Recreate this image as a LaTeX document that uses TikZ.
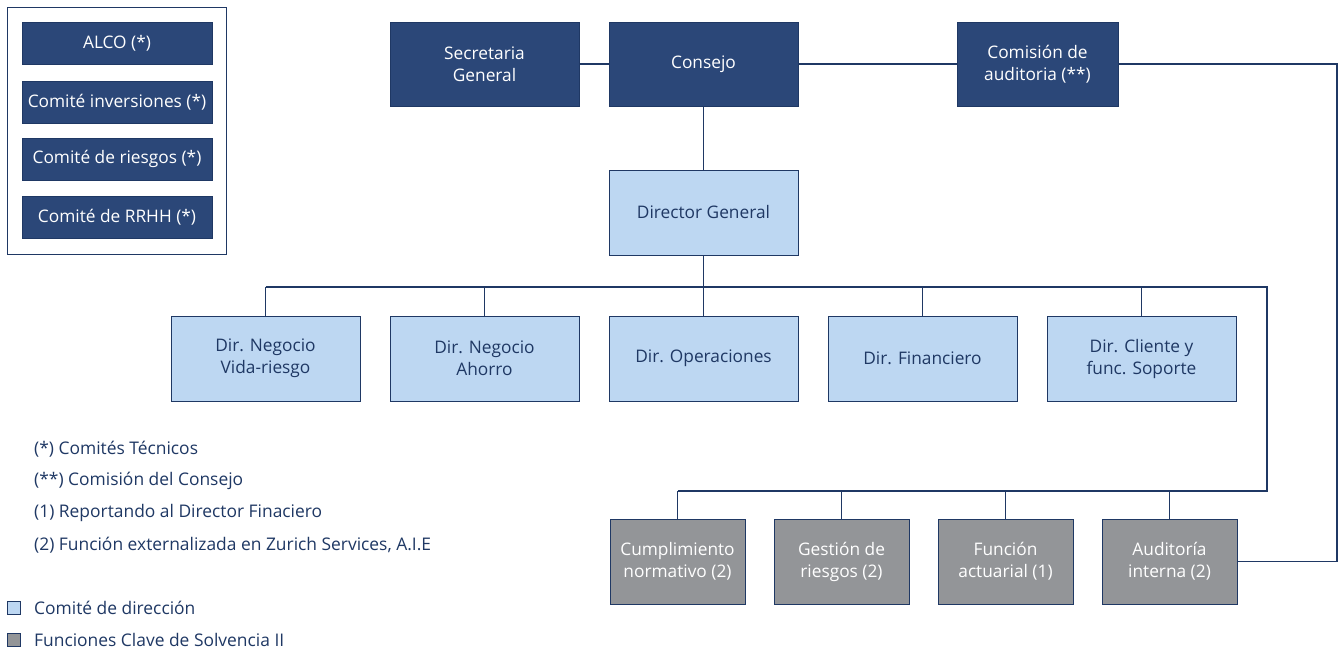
\documentclass[tikz,border=0pt]{standalone}
\usepackage{fontspec}
\setmainfont{Open Sans}
\definecolor{navy}{HTML}{2B4778}
\definecolor{navyline}{HTML}{1F3864}
\definecolor{lightb}{HTML}{BDD7F2}
\definecolor{grayb}{HTML}{939598}
\begin{document}
\begin{tikzpicture}[x=1pt,y=-1pt,
  base/.style={rectangle,draw=navyline,line width=0.8pt,align=center,font=\fontsize{17.3}{22}\selectfont,inner sep=2pt},
  darkbox/.style={base,fill=navy,text=white,minimum width=189pt,minimum height=84pt},
  combox/.style={base,fill=navy,text=white,minimum width=190pt,minimum height=42pt},
  lightbox/.style={base,fill=lightb,text=navyline,minimum width=189pt,minimum height=85pt},
  graybox/.style={base,fill=grayb,text=white,minimum width=135pt,minimum height=85pt},
  conn/.style={draw=navyline,line width=1.3pt},
  legtext/.style={anchor=west,text=navyline,font=\fontsize{17.4}{20}\selectfont,inner sep=0pt},
  legsq/.style={rectangle,draw=navyline,line width=0.8pt,minimum size=13pt,inner sep=0pt}]
\useasboundingbox (0,0) rectangle (1338,651);
\fill[white] (0,0) rectangle (1338,651);
% committees frame
\node[draw=navyline,line width=1pt,minimum width=219pt,minimum height=247pt,inner sep=0pt] (frame) at (116.5,130.5) {};
\node[combox] (alco) at (117,43) {ALCO (*)};
\node[combox] (inv) at (117,102) {Comité inversiones (*)};
\node[combox] (rie) at (117,159) {Comité de riesgos (*)};
\node[combox] (rrhh) at (117,217) {Comité de RRHH (*)};
% top row
\node[darkbox] (sec) at (484.5,64) {Secretaria\\General};
\node[darkbox] (cons) at (703.5,64) {Consejo};
\node[darkbox,minimum width=161pt] (com) at (1037.5,64) {Comisión de\\auditoria (**)};
% director general
\node[lightbox] (dg) at (703.5,212.5) {Director General};
% directors
\node[lightbox] (d1) at (265.5,358.5) {Dir. Negocio\\Vida-riesgo};
\node[lightbox] (d2) at (484.5,358.5) {Dir. Negocio\\Ahorro};
\node[lightbox] (d3) at (703.5,358.5) {Dir. Operaciones};
\node[lightbox] (d4) at (922.5,358.5) {Dir. Financiero};
\node[lightbox] (d5) at (1141.5,358.5) {Dir. Cliente y\\func. Soporte};
% key functions
\node[graybox] (f1) at (677.5,561.5) {Cumplimiento\\normativo (2)};
\node[graybox] (f2) at (841.5,561.5) {Gestión de\\riesgos (2)};
\node[graybox] (f3) at (1005.5,561.5) {Función\\actuarial (1)};
\node[graybox] (f4) at (1169.5,561.5) {Auditoría\\interna (2)};
% connectors
\coordinate (busL) at (265.5,287);
\coordinate (busR) at (1267,287);
\coordinate (busR2) at (1267,491);
\coordinate (farR) at (1337,64);
\draw[conn] (sec.east) -- (cons.west);
\draw[conn] (cons.east) -- (com.west);
\draw[conn] (com.east) -- (farR) |- (f4.east);
\draw[conn] (cons.south) -- (dg.north);
\draw[conn] (dg.south) -- (d3.north);
\draw[conn] (busL) -- (busR) -- (busR2) -- (f1.north |- busR2);
\foreach \n in {d1,d2,d4,d5} \draw[conn] (\n.north) -- (\n.north |- busL);
\foreach \n in {f1,f2,f3,f4} \draw[conn] (\n.north) -- (\n.north |- busR2);
% legend
\node[legtext] (l1) at (34,449) {(*) Comités Técnicos};
\node[legtext] (l2) at (34,481) {(**) Comisión del Consejo};
\node[legtext] (l3) at (34,513) {(1) Reportando al Director Finaciero};
\node[legtext] (l4) at (34,545) {(2) Función externalizada en Zurich Services, A.I.E};
\node[legsq,fill=lightb] (sq1) at (13.5,607.5) {};
\node[legtext] (l5) at (34,608) {Comité de dirección};
\node[legsq,fill=grayb] (sq2) at (13.5,639.5) {};
\node[legtext] (l6) at (34,640) {Funciones Clave de Solvencia II};
\end{tikzpicture}
\end{document}
